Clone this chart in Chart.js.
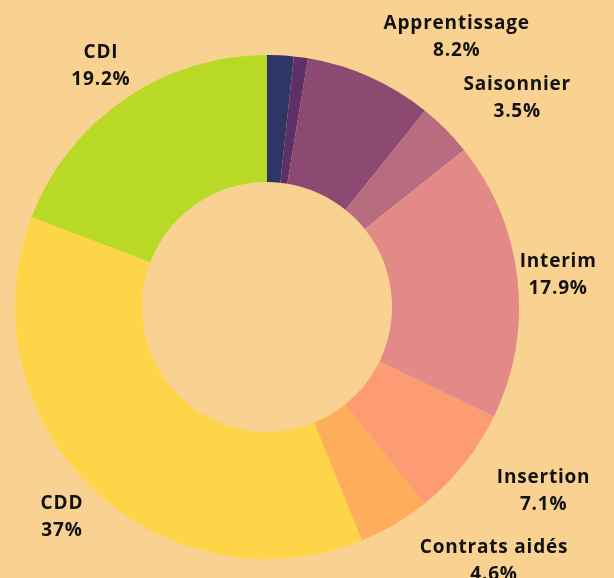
<!DOCTYPE html>
<html>
<head>
<meta charset="utf-8">
<script src="https://cdn.jsdelivr.net/npm/chart.js@4.4.1/dist/chart.umd.min.js"></script>
<style>
  html, body { margin: 0; padding: 0; background: #f9d291; }
  #wrap { width: 614px; height: 578px; position: relative; }
</style>
</head>
<body>
<div id="wrap"><canvas id="contracts"></canvas></div>
<script>
// Data (percent of contracts)
const categories = ['', '', 'Apprentissage', 'Saisonnier', 'Interim', 'Insertion', 'Contrats aidés', 'CDD', 'CDI'];
const shares = [1.7, 0.9, 8.2, 3.5, 17.9, 7.1, 4.6, 37, 19.2];
const shareLabels = ['', '', '8.2%', '3.5%', '17.9%', '7.1%', '4.6%', '37%', '19.2%'];
const sliceColors = ['#2e3668', '#5e3068', '#8c4a73', '#b86c80', '#e28a88', '#fd9b74', '#feae5b', '#fed548', '#b8d925'];

// label placement: angle nudge (deg) and distance past the outer edge
const labelLayout = {
    2: { nudge: 11, gap: 78 },
    3: { nudge: 5, gap: 74 },
    5: { nudge: -5, gap: 80 },
    6: { nudge: -11.5, gap: 88 }
};

const outsideLabels = {
    id: 'outsideLabels',
    afterDraw(chart) {
        const ctx = chart.ctx;
        const meta = chart.getDatasetMeta(0);
        ctx.save();
        ctx.fillStyle = '#111';
        ctx.font = 'bold 19px "Open Sans"';
        ctx.letterSpacing = '0.8px';
        ctx.textAlign = 'center';
        ctx.textBaseline = 'middle';
        meta.data.forEach((arc, i) => {
            if (!categories[i]) return;
            const p = arc.getProps(['x', 'y', 'startAngle', 'endAngle', 'outerRadius']);
            const lay = labelLayout[i] || { nudge: 0, gap: 41 };
            const mid = (p.startAngle + p.endAngle) / 2 + lay.nudge * Math.PI / 180;
            const r = p.outerRadius + lay.gap;
            const x = p.x + r * Math.cos(mid);
            const y = p.y + r * Math.sin(mid);
            ctx.fillText(categories[i], x, y - 13);
            ctx.fillText(shareLabels[i], x, y + 14);
        });
        ctx.restore();
    }
};

new Chart(document.getElementById('contracts').getContext('2d'), {
    type: 'doughnut',
    data: {
        labels: categories,
        datasets: [{
            data: shares,
            backgroundColor: sliceColors,
            borderWidth: 0
        }]
    },
    options: {
        responsive: true,
        maintainAspectRatio: false,
        animation: false,
        cutout: '49.6%',
        layout: { padding: { left: 15, right: 95, top: 55, bottom: 19 } },
        plugins: {
            legend: { display: false },
            tooltip: { enabled: false }
        }
    },
    plugins: [outsideLabels]
});
</script>
</body>
</html>
